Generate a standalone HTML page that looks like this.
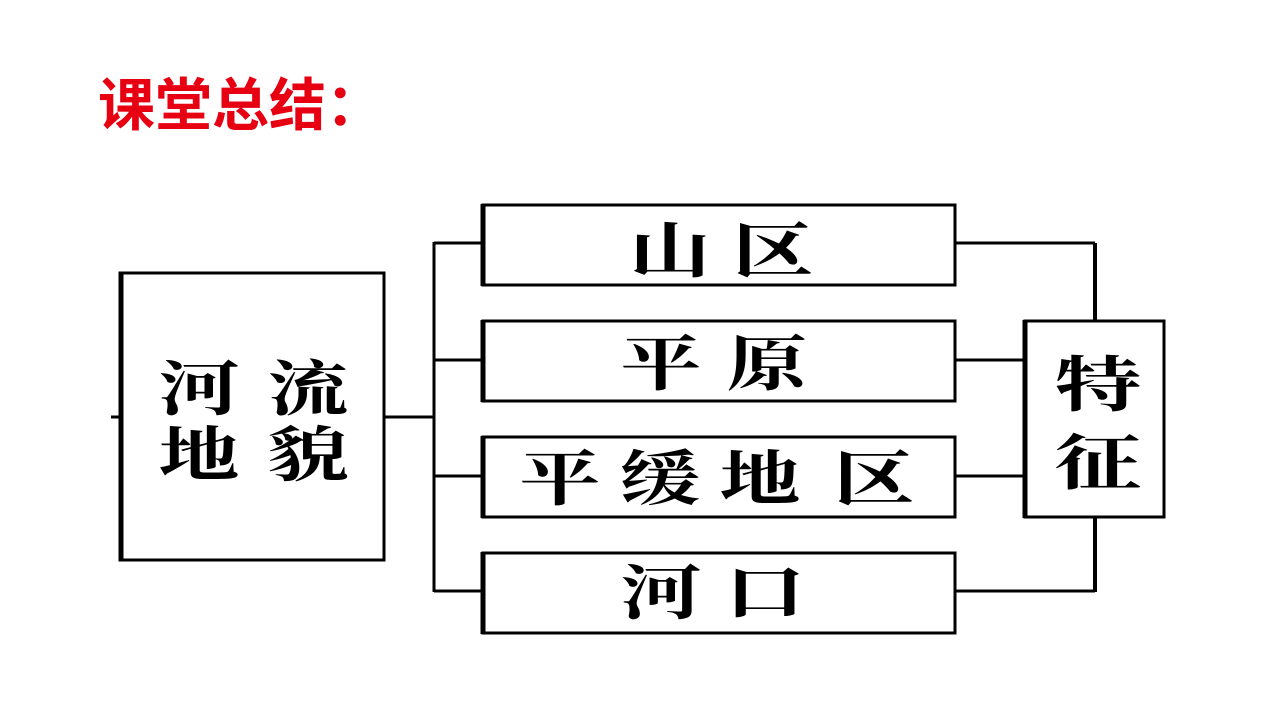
<!DOCTYPE html>
<html><head><meta charset="utf-8"><style>
html,body{margin:0;padding:0;background:#fff;}
svg{display:block}
text{font-family:"Liberation Serif","Noto Serif CJK SC",serif;font-weight:bold;fill:#000;}
</style></head><body>
<svg width="1280" height="720" viewBox="0 0 1280 720" xmlns="http://www.w3.org/2000/svg">
<text x="98" y="125" style="font-family:'Liberation Sans','Noto Sans CJK SC',sans-serif;font-weight:bold;fill:#e60012" font-size="57">课堂总结：</text>
<g stroke="#000" fill="none" stroke-width="3">
<rect x="120" y="273" width="264" height="287"/>
<line x1="121" y1="272" x2="121" y2="561" stroke-width="5"/>
<line x1="111" y1="417" x2="120" y2="417"/>
<line x1="384" y1="417" x2="434" y2="417"/>
<line x1="434" y1="242" x2="434" y2="592"/>
<line x1="434" y1="243" x2="483" y2="243"/>
<line x1="434" y1="360" x2="483" y2="360"/>
<line x1="434" y1="476" x2="483" y2="476"/>
<line x1="434" y1="591" x2="483" y2="591"/>
<rect x="483" y="205" width="472" height="80"/>
<rect x="483" y="321" width="472" height="80"/>
<rect x="483" y="437" width="472" height="80"/>
<rect x="483" y="553" width="472" height="80"/>
<line x1="483" y1="204" x2="483" y2="286" stroke-width="5"/>
<line x1="483" y1="320" x2="483" y2="402" stroke-width="5"/>
<line x1="483" y1="436" x2="483" y2="518" stroke-width="5"/>
<line x1="483" y1="552" x2="483" y2="634" stroke-width="5"/>
<line x1="955" y1="243" x2="1095" y2="243"/>
<line x1="1095" y1="243" x2="1095" y2="321" stroke-width="4"/>
<line x1="955" y1="360" x2="1024" y2="360"/>
<line x1="955" y1="476" x2="1024" y2="476"/>
<line x1="955" y1="591" x2="1095" y2="591"/>
<line x1="1095" y1="517" x2="1095" y2="592" stroke-width="4"/>
<rect x="1025" y="321" width="139" height="196"/>
<line x1="1025" y1="320" x2="1025" y2="518" stroke-width="5"/>
</g>
<g font-size="60" text-anchor="middle">
<text transform="translate(670,272) scale(1.35,1)">山</text>
<text transform="translate(773,272) scale(1.35,1)">区</text>
<text transform="translate(661,385) scale(1.35,1)">平</text>
<text transform="translate(767,385) scale(1.35,1)">原</text>
<text transform="translate(560,500) scale(1.35,1)">平</text>
<text transform="translate(660,500) scale(1.35,1)">缓</text>
<text transform="translate(760,500) scale(1.35,1)">地</text>
<text transform="translate(874,500) scale(1.35,1)">区</text>
<text transform="translate(661,614) scale(1.35,1)">河</text>
<text transform="translate(765,614) scale(1.35,1)">口</text>
<text transform="translate(199,410) scale(1.35,1)">河</text>
<text transform="translate(308,410) scale(1.35,1)">流</text>
<text transform="translate(199,476) scale(1.35,1)">地</text>
<text transform="translate(308,476) scale(1.35,1)">貌</text>
<text transform="translate(1098,406) scale(1.45,1)">特</text>
<text transform="translate(1098,484) scale(1.45,1)">征</text>
</g>
</svg>
</body></html>
